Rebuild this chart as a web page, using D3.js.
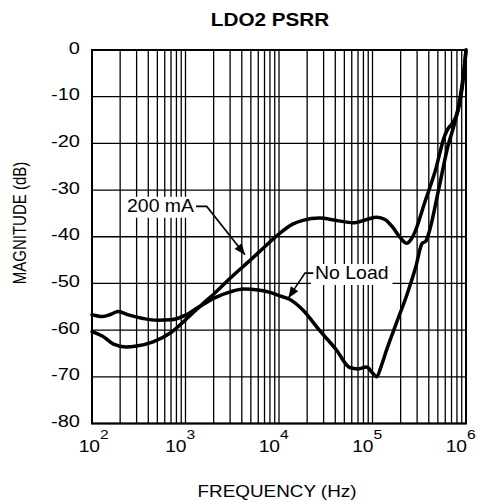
<!DOCTYPE html>
<html>
<head>
<meta charset="utf-8">
<script src="https://cdn.jsdelivr.net/npm/d3@7"></script>
<style>
  html, body { margin: 0; padding: 0; background: #fff; }
  svg { display: block; }
  text { font-family: "Liberation Sans", Arial, Helvetica, sans-serif; fill: #000; }
</style>
</head>
<body>
<svg id="chart" width="479" height="501"></svg>
<script>
// ---------------- data ----------------
const title = "LDO2 PSRR";
const xTitle = "FREQUENCY (Hz)";
const yTitle = "MAGNITUDE (dB)";

const xTickExps = [2, 3, 4, 5, 6];
const yTicks = [0, -10, -20, -30, -40, -50, -60, -70, -80];

// 200 mA load curve
const freq200 = [100, 130, 170, 230, 300, 450, 700, 1000, 1500, 2000, 3000, 5000, 7000, 10000, 14000, 18000, 27000, 41000, 62000, 87000, 111000, 136000, 165000, 200000, 232000, 260000, 285000, 364000, 466000, 596000, 646000, 731000, 827000, 936000, 1000000];
const db200   = [-60.3, -61.3, -63.0, -63.6, -63.4, -62.5, -60.5, -57.8, -54.5, -52.3, -48.9, -44.9, -42.2, -39.4, -37.3, -36.5, -36.0, -36.5, -37.0, -36.3, -35.8, -36.3, -38.0, -40.3, -41.4, -40.5, -38.9, -32.5, -26.1, -18.2, -16.8, -15.4, -12.8, -6.1, 0];

// No load curve
const freqNL = [100, 130, 160, 190, 250, 350, 500, 700, 1000, 1400, 2000, 3000, 4200, 6000, 8000, 10000, 13000, 18000, 27000, 41000, 57000, 70000, 87000, 100000, 111000, 125000, 140000, 180000, 230000, 290000, 340000, 370000, 395000, 505000, 646000, 762000, 863000, 975000, 1000000];
const dbNL   = [-56.7, -57.1, -56.6, -56.0, -56.8, -57.5, -57.9, -57.8, -56.8, -55.0, -53.2, -51.8, -51.2, -51.4, -51.9, -52.6, -53.4, -55.7, -60.0, -64.2, -68.0, -68.3, -67.9, -69.2, -70.0, -67.5, -64.5, -58.5, -52.8, -46.5, -41.4, -41.0, -39.6, -30.3, -20.3, -15.4, -10.3, -2.5, 0];

// annotations (data coordinates)
const labels = ["200 mA", "No Load"];
const labelPos = [[237, -34.65], [24300, -49.05]];
const leaders = [
  [[1294, -33.5], [1687, -33.5], [4326, -43.85]],
  [[23300, -47.8], [18970, -47.8], [12600, -53.1]]
];

// ---------------- layout ----------------
const plot = { left: 92, top: 50, right: 466, bottom: 423.5 };

const svg = d3.select("#chart");

const x = d3.scaleLog().domain([1e2, 1e6]).range([plot.left, plot.right]);
const y = d3.scaleLinear().domain([-80, 0]).range([plot.bottom, plot.top]);

function addText(parent, px, py, str, opts) {
  const o = Object.assign({ size: 16, sx: 1, sy: 1, anchor: "start", weight: "normal", rotate: 0 }, opts || {});
  const g = parent.append("g")
    .attr("transform", `translate(${px},${py}) rotate(${o.rotate}) scale(${o.sx},${o.sy})`);
  const t = g.append("text")
    .attr("text-anchor", o.anchor)
    .attr("font-size", o.size)
    .attr("font-weight", o.weight)
    .text(str);
  return { g, t };
}

// ---------------- grid ----------------
const minorVals = [];
for (let e = 2; e < 6; e++) {
  for (let m = 1; m <= 9; m++) minorVals.push(m * Math.pow(10, e));
}
minorVals.push(1e6);

const grid = svg.append("g");
grid.selectAll("line.v").data(minorVals).join("line")
  .attr("class", "v")
  .attr("x1", d => x(d)).attr("x2", d => x(d))
  .attr("y1", plot.top).attr("y2", plot.bottom)
  .attr("stroke", "#000").attr("stroke-width", 1.3);

grid.selectAll("line.h").data(yTicks).join("line")
  .attr("class", "h")
  .attr("x1", plot.left).attr("x2", plot.right)
  .attr("y1", d => y(d)).attr("y2", d => y(d))
  .attr("stroke", "#000").attr("stroke-width", 1.3);

// frame
svg.append("rect")
  .attr("x", plot.left).attr("y", plot.top)
  .attr("width", plot.right - plot.left).attr("height", plot.bottom - plot.top)
  .attr("fill", "none").attr("stroke", "#000").attr("stroke-width", 2);

// ---------------- axes labels ----------------
const yAxisG = svg.append("g");
yTicks.forEach(v => {
  addText(yAxisG, 80, y(v) + 3.5, String(v), { size: 16, sx: 1.25, anchor: "end" });
});

const xAxisG = svg.append("g");
xTickExps.forEach((e, i) => {
  const gx = x(Math.pow(10, e));
  const endX = (i === 0) ? gx + 8 : gx + 1;
  addText(xAxisG, endX, 452, "10", { size: 16, sx: 1.2, anchor: "end" });
  addText(xAxisG, endX, 439, String(e), { size: 13, sx: 1.2, anchor: "start" });
});

// titles
addText(svg, 270, 26, title, { size: 18, sx: 1.15, anchor: "middle", weight: "bold" });
addText(svg, 277, 497, xTitle, { size: 16, sx: 1.18, anchor: "middle" });
addText(svg, 26, 223, yTitle, { size: 15, sy: 1.22, anchor: "middle", rotate: -90 });

// ---------------- curves ----------------
const line = d3.line()
  .x(d => x(d[0]))
  .y(d => y(d[1]))
  .curve(d3.curveMonotoneX);

const series = [
  freq200.map((f, i) => [f, db200[i]]),
  freqNL.map((f, i) => [f, dbNL[i]])
];

const curves = svg.append("g");
curves.selectAll("path").data(series).join("path")
  .attr("d", line)
  .attr("fill", "none")
  .attr("stroke", "#000")
  .attr("stroke-width", 3.5)
  .attr("stroke-linejoin", "round")
  .attr("stroke-linecap", "round");

// ---------------- annotations ----------------
const ann = svg.append("g");
labels.forEach((txt, i) => {
  const [lf, ld] = labelPos[i];
  const px = x(lf), py = y(ld);
  const grp = ann.append("g");
  const bg = grp.append("rect").attr("fill", "#fff");
  const tt = addText(grp, px, py, txt, { size: 18, sx: 1.08, anchor: "start" });
  const bb = tt.g.node().getBBox();
  const w = bb.width * 1.08;
  bg.attr("x", px - 4).attr("y", py - 15).attr("width", w + 8).attr("height", 21);

  const pts = leaders[i].map(p => [x(p[0]), y(p[1])]);
  ann.append("path")
    .attr("d", d3.line()(pts))
    .attr("fill", "none").attr("stroke", "#000").attr("stroke-width", 1.6);
  // arrowhead
  const a = pts[pts.length - 2], b = pts[pts.length - 1];
  const ang = Math.atan2(b[1] - a[1], b[0] - a[0]);
  const L = 11, Wd = 4.5;
  const bx = b[0] - L * Math.cos(ang), by = b[1] - L * Math.sin(ang);
  const p1 = [bx + Wd * Math.sin(ang), by - Wd * Math.cos(ang)];
  const p2 = [bx - Wd * Math.sin(ang), by + Wd * Math.cos(ang)];
  ann.append("path")
    .attr("d", d3.line()([b, p1, p2, b]))
    .attr("fill", "#000").attr("stroke", "none");
});
</script>
</body>
</html>
